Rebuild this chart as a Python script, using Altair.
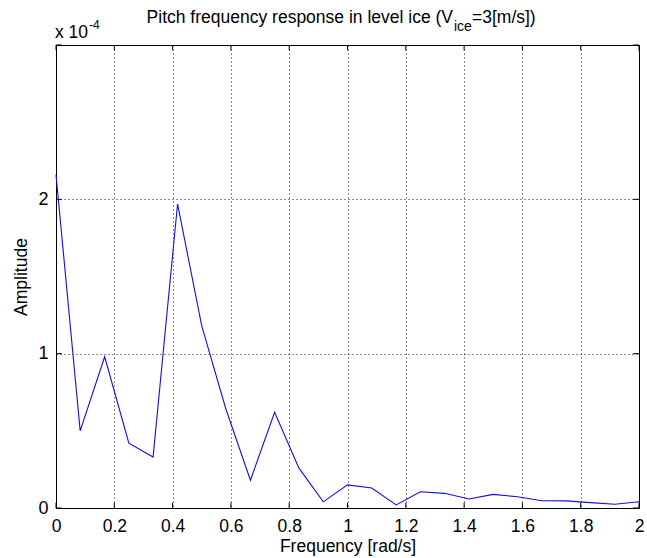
import altair as alt
import pandas as pd

# ---- data (amplitude in units of 1e-4) ----
freq = [0.0, 0.083, 0.167, 0.25, 0.333, 0.417, 0.5, 0.583, 0.667, 0.75, 0.833, 0.917,
        1.0, 1.083, 1.167, 1.25, 1.333, 1.417, 1.5, 1.583, 1.667, 1.75, 1.833, 1.917, 2.0]
amp = [2.16, 0.50, 0.98, 0.42, 0.33, 1.97, 1.18, 0.64, 0.18, 0.62, 0.26, 0.04,
       0.15, 0.13, 0.02, 0.105, 0.095, 0.058, 0.088, 0.073, 0.047, 0.046, 0.035, 0.024, 0.04]

x_ticks = [0, 0.2, 0.4, 0.6, 0.8, 1, 1.2, 1.4, 1.6, 1.8, 2]
y_ticks = [0, 1, 2, 3]
y_labels = [0, 1, 2]

title_main = ["Pitch frequency response in level ice (V"]
title_sub = ["ice"]
title_tail = ["=3[m/s])"]
exp_base = ["x 10"]
exp_sup = ["-4"]

FONT = "Liberation Sans"
W, H = 583, 463

df = pd.DataFrame({"freq": freq, "amp": amp})

xs = alt.Scale(domain=[0, 2], nice=False, zero=False)
ys = alt.Scale(domain=[0, 3], nice=False, zero=False)

x_axis = alt.Axis(values=x_ticks, format="~g", grid=True, gridColor="black",
                  gridDash=[1, 3], gridOpacity=0.9, gridWidth=1, ticks=False, tickSize=0,
                  domain=False, labelFont=FONT, labelFontSize=17.5, labelColor="black",
                  labelPadding=9, labelFlush=False,
                  title="Frequency [rad/s]", titleFont=FONT, titleFontSize=17.5,
                  titleFontWeight="normal", titleColor="black",
                  titleX=W / 2, titleY=43, titleBaseline="alphabetic", titleAlign="center")
y_axis = alt.Axis(values=y_labels, format="~g", grid=True, gridColor="black",
                  gridDash=[1, 3], gridOpacity=0.9, gridWidth=1, ticks=False, tickSize=0,
                  domain=False, labelFont=FONT, labelFontSize=18, labelColor="black",
                  labelPadding=8, labelFlush=False, labelBaseline="middle",
                  title="Amplitude", titleFont=FONT, titleFontSize=17.5,
                  titleFontWeight="normal", titleColor="black",
                  titleX=-30, titleY=H / 2, titleAngle=270,
                  titleBaseline="alphabetic", titleAlign="center")

line = alt.Chart(df).mark_line(color="#1010e0", strokeWidth=1.1).encode(
    x=alt.X("freq:Q", scale=xs, axis=x_axis),
    y=alt.Y("amp:Q", scale=ys, axis=y_axis),
)

# inward tick marks (MATLAB style)
tk = 0.035
xt = pd.DataFrame({"x": x_ticks})
yt = pd.DataFrame({"y": y_ticks})
tick_bottom = alt.Chart(xt).mark_rule(color="black", strokeWidth=1).encode(
    x=alt.X("x:Q", scale=xs), y=alt.datum(0, scale=ys), y2=alt.datum(tk))
tick_top = alt.Chart(xt).mark_rule(color="black", strokeWidth=1).encode(
    x=alt.X("x:Q", scale=xs), y=alt.datum(3, scale=ys), y2=alt.datum(3 - tk))
tick_left = alt.Chart(yt).mark_rule(color="black", strokeWidth=1).encode(
    y=alt.Y("y:Q", scale=ys), x=alt.datum(0, scale=xs), x2=alt.datum(0.02))
tick_right = alt.Chart(yt).mark_rule(color="black", strokeWidth=1).encode(
    y=alt.Y("y:Q", scale=ys), x=alt.datum(2, scale=xs), x2=alt.datum(2 - 0.02))

def txt(vals, x, y, size, align):
    return alt.Chart(pd.DataFrame({"t": vals})).mark_text(
        font=FONT, fontSize=size, color="black", align=align, baseline="alphabetic"
    ).encode(text="t:N", x=alt.value(x), y=alt.value(y))

t1 = txt(title_main, 397, -22, 17.5, "right")
t2 = txt(title_sub, 398, -14, 14, "left")
t3 = txt(title_tail, 416, -22, 17.5, "left")
e1 = txt(exp_base, -1, -7, 17.5, "left")
e2 = txt(exp_sup, 33, -16, 12, "left")

chart = alt.layer(line, tick_bottom, tick_top, tick_left, tick_right,
                  t1, t2, t3, e1, e2).properties(
    width=W, height=H,
    autosize=alt.AutoSizeParams(type="none"),
    padding={"left": 56, "top": 45, "right": 8, "bottom": 50},
    background="white",
).configure_view(stroke="black", strokeWidth=1)

chart.save("out.html", embed_options={"renderer": "svg", "actions": False})
